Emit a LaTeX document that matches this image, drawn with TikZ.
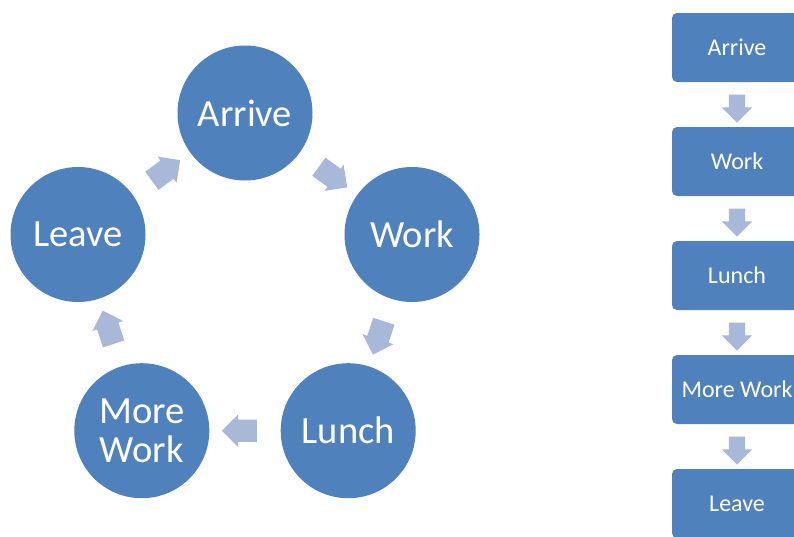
\documentclass[tikz,border=0pt]{standalone}
\usepackage{fontspec}
\setmainfont{Carlito}
\usetikzlibrary{shapes.arrows,calc}
\definecolor{blueC}{HTML}{4F81BD}
\definecolor{arrowC}{HTML}{A7B8D8}
\tikzset{
  circ/.style={circle, fill=blueC, draw=none, minimum size=135pt, inner sep=0pt,
    text=white, align=center, font=\fontsize{38.5}{39}\selectfont},
  boxn/.style={rectangle, rounded corners=5pt, fill=blueC, draw=none,
    minimum width=130pt, minimum height=69pt, inner sep=0pt,
    text=white, font=\fontsize{24}{26}\selectfont},
  bigarrow/.style={shape=single arrow, fill=arrowC, draw=none, inner xsep=0pt, inner ysep=11pt,
    minimum height=35pt, single arrow head extend=5pt,
    single arrow head indent=0pt, single arrow tip angle=90},
  smallarrow/.style={shape=single arrow, fill=arrowC, draw=none, inner xsep=0pt, inner ysep=8pt,
    minimum height=28pt, single arrow head extend=7pt,
    single arrow head indent=0pt, single arrow tip angle=90, rotate=-90}
}
\begin{document}
\begin{tikzpicture}[x=1pt,y=-1pt]
\useasboundingbox (0,0) rectangle (794,536);
\clip (0,0) rectangle (794,536);
\fill[white] (0,0) rectangle (794,536);
% cycle
\node[circ] (arrive) at (245,113) {Arrive};
\node[circ] (work) at (412,234.5) {Work};
\node[circ] (lunch) at (348.2,430.7) {Lunch};
\node[circ] (more) at (141.8,430.7) {More\\Work};
\node[circ] (leave) at (78,234.5) {Leave};
\foreach \a/\b in {arrive/work, work/lunch, lunch/more, more/leave, leave/arrive}{
  \path let \p1=($(\b)-(\a)$), \n1={atan2(\y1,\x1)} in
    node[bigarrow, rotate=\n1] at ($(\a)!0.5!(\b)$) {};
}
% list
\node[boxn] (b1) at (737,47.5) {Arrive};
\node[boxn] (b2) at (737,161.5) {Work};
\node[boxn] (b3) at (737,275.5) {Lunch};
\node[boxn] (b4) at (737,389.5) {More Work};
\node[boxn] (b5) at (737,503.5) {Leave};
\foreach \a/\b in {b1/b2, b2/b3, b3/b4, b4/b5}{
  \node[smallarrow] at ($(\a.south)!0.5!(\b.north)$) {};
}
\end{tikzpicture}
\end{document}
